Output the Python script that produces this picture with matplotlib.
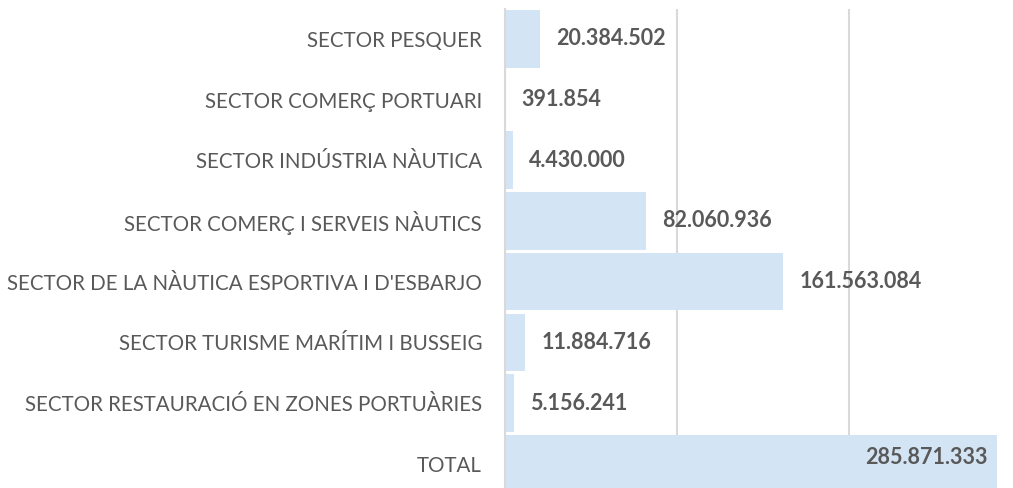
"""
Horizontal bar chart: sectors
"""

import matplotlib.pyplot as plt

plt.rcParams['font.family'] = ['Lato', 'DejaVu Sans']

categories = [
    'SECTOR PESQUER',
    'SECTOR COMERÇ PORTUARI',
    'SECTOR INDÚSTRIA NÀUTICA',
    'SECTOR COMERÇ I SERVEIS NÀUTICS',
    "SECTOR DE LA NÀUTICA ESPORTIVA I D'ESBARJO",
    'SECTOR TURISME MARÍTIM I BUSSEIG',
    'SECTOR RESTAURACIÓ EN ZONES PORTUÀRIES',
    'TOTAL',
]
values = [20384502, 391854, 4430000, 82060936, 161563084, 11884716, 5156241, 285871333]


def fmt(v):
    return f'{v:,}'.replace(',', '.')


if __name__ == "__main__":
    fig = plt.figure(figsize=(10.13, 4.88), dpi=100)
    ax = fig.add_axes([505 / 1013, -0.0125, 508 / 1013, 0.995])

    ypos = list(range(len(categories)))
    ax.barh(ypos, values, height=0.95, color='#d3e4f5', zorder=2)

    ax.set_xlim(0, 295e6)
    ax.set_ylim(len(categories) - 0.5, -0.5)
    ax.set_xticks([0, 100e6, 200e6])
    ax.grid(axis='x', color='#d9d9d9', linewidth=1.5, zorder=1)
    ax.tick_params(axis='x', length=0, labelbottom=False)
    ax.tick_params(axis='y', length=0, pad=16.5)
    ax.set_yticks(ypos)
    ax.set_yticklabels(categories, fontsize=14.8, color='#595959')
    for s in ['top', 'right', 'bottom']:
        ax.spines[s].set_visible(False)
    ax.spines['left'].set_color('#d9d9d9')
    ax.spines['left'].set_linewidth(1.5)

    for y, v in zip(ypos, values):
        if v > 250e6:
            ax.annotate(fmt(v), (v, y), xytext=(-10, 6), textcoords='offset pixels',
                        ha='right', va='center', fontsize=15.5, fontweight='bold',
                        color='#595959', zorder=3)
        else:
            ax.annotate(fmt(v), (v, y), xytext=(16, 0), textcoords='offset pixels',
                        ha='left', va='center', fontsize=15.5, fontweight='bold',
                        color='#595959', zorder=3)

    plt.savefig('out.png', dpi=100)
